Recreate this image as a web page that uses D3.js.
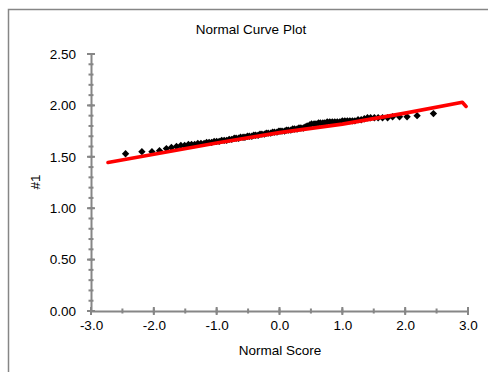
<!DOCTYPE html>
<html>
<head>
<meta charset="utf-8">
<script src="https://cdn.jsdelivr.net/npm/d3@7"></script>
<style>
  body { margin: 0; background: #fff; }
  text { font-family: "Liberation Sans", Arial, sans-serif; fill: #000; }
</style>
</head>
<body>
<div id="chart"></div>
<script>
// normal scores and observed values (#1)
const normalScores = [
  -2.45, -2.19, -2.03, -1.91, -1.80, -1.72, -1.64, -1.57, -1.51, -1.45,
  -1.40, -1.35, -1.30, -1.25, -1.20, -1.16, -1.12, -1.08, -1.04, -1.00,
  -0.96, -0.92, -0.88, -0.84, -0.80, -0.76, -0.72, -0.69, -0.65, -0.62,
  -0.58, -0.55, -0.51, -0.48, -0.44, -0.41, -0.38, -0.34, -0.31, -0.28,
  -0.24, -0.21, -0.18, -0.14, -0.11, -0.08, -0.04, -0.01,
  0.01, 0.04, 0.08, 0.11, 0.14, 0.18, 0.21, 0.24, 0.28, 0.31,
  0.34, 0.38, 0.41, 0.44, 0.48, 0.51, 0.55, 0.58, 0.62, 0.65,
  0.69, 0.72, 0.76, 0.80, 0.84, 0.88, 0.92, 0.96, 1.00, 1.04,
  1.08, 1.12, 1.16, 1.20, 1.25, 1.30, 1.35, 1.40, 1.45, 1.51,
  1.57, 1.64, 1.72, 1.80, 1.91, 2.03, 2.19, 2.45
];
const values = [
  1.53, 1.55, 1.55, 1.56, 1.58, 1.59, 1.60, 1.61, 1.61, 1.62,
  1.62, 1.62, 1.63, 1.63, 1.63, 1.64, 1.64, 1.64, 1.65, 1.65,
  1.65, 1.66, 1.66, 1.66, 1.67, 1.67, 1.68, 1.68, 1.68, 1.69,
  1.69, 1.69, 1.70, 1.70, 1.70, 1.71, 1.71, 1.71, 1.72, 1.72,
  1.72, 1.73, 1.73, 1.73, 1.74, 1.74, 1.74, 1.75,
  1.75, 1.75, 1.75, 1.76, 1.76, 1.76, 1.77, 1.77, 1.77, 1.78,
  1.78, 1.78, 1.79, 1.80, 1.81, 1.82, 1.82, 1.82, 1.83, 1.83,
  1.83, 1.83, 1.84, 1.84, 1.84, 1.84, 1.84, 1.84, 1.85, 1.85,
  1.85, 1.85, 1.85, 1.85, 1.86, 1.86, 1.87, 1.88, 1.88, 1.88,
  1.88, 1.88, 1.88, 1.89, 1.89, 1.89, 1.90, 1.92
];

// fitted normal line (red)
const curveScores = [-2.73, -1.0, 0.0, 1.0, 2.0, 2.91, 2.97];
const curveValues = [1.445, 1.635, 1.735, 1.818, 1.925, 2.03, 1.99];

const xTicks = [-3, -2, -1, 0, 1, 2, 3];
const yTicks = [0, 0.5, 1.0, 1.5, 2.0, 2.5];

const width = 488, height = 372;
const svg = d3.select('#chart').append('svg')
  .attr('width', width)
  .attr('height', height);

// outer chart frame (runs off the right and bottom edges)
svg.append('rect')
  .attr('x', 8.5).attr('y', 9.5)
  .attr('width', 520).attr('height', 420)
  .attr('fill', 'none')
  .attr('stroke', '#868686')
  .attr('stroke-width', 1.5);

const x = d3.scaleLinear().domain([-3, 3]).range([91, 468]);
const y = d3.scaleLinear().domain([0, 2.5]).range([311, 54]);

const axisColor = '#868686';
const hyphen = f => d => f(d).replace('\u2212', '-');

// minor ticks
const minorX = d3.range(-3, 3.01, 0.5);
const minorY = d3.range(0, 2.501, 0.1);

svg.append('g').selectAll('line')
  .data(minorX)
  .enter().append('line')
  .attr('x1', d => x(d)).attr('x2', d => x(d))
  .attr('y1', y(0) - 2.5).attr('y2', y(0) + 2.5)
  .attr('stroke', axisColor).attr('stroke-width', 2);

svg.append('g').selectAll('line')
  .data(minorY)
  .enter().append('line')
  .attr('y1', d => y(d)).attr('y2', d => y(d))
  .attr('x1', x(-3) - 2.5).attr('x2', x(-3) + 2.5)
  .attr('stroke', axisColor).attr('stroke-width', 2);

// axes
const xAxis = svg.append('g')
  .attr('transform', `translate(0,${y(0)})`)
  .call(d3.axisBottom(x).tickValues(xTicks).tickSize(0).tickPadding(9).tickFormat(hyphen(d3.format('.1f'))));
const yAxis = svg.append('g')
  .attr('transform', `translate(${x(-3)},0)`)
  .call(d3.axisLeft(y).tickValues(yTicks).tickSize(0).tickPadding(15).tickFormat(d3.format('.2f')));

[xAxis, yAxis].forEach(g => {
  g.select('.domain').attr('stroke', axisColor).attr('stroke-width', 2);
  g.selectAll('text')
    .style('font-size', '13.5px')
    .style('font-family', '"Liberation Sans", Arial, sans-serif')
    .attr('fill', '#000');
});

// major ticks crossing the axis
svg.append('g').selectAll('line')
  .data(xTicks)
  .enter().append('line')
  .attr('x1', d => x(d)).attr('x2', d => x(d))
  .attr('y1', y(0) - 4).attr('y2', y(0) + 4)
  .attr('stroke', axisColor).attr('stroke-width', 2);

svg.append('g').selectAll('line')
  .data(yTicks)
  .enter().append('line')
  .attr('y1', d => y(d)).attr('y2', d => y(d))
  .attr('x1', x(-3) - 4).attr('x2', x(-3) + 4)
  .attr('stroke', axisColor).attr('stroke-width', 2);

// data points
const points = normalScores.map((z, i) => ({ z, v: values[i] }));
const diamond = d3.symbol().type(d3.symbolSquare).size(27);

svg.append('g').selectAll('path')
  .data(points)
  .enter().append('path')
  .attr('d', diamond)
  .attr('transform', d => `translate(${x(d.z)},${y(d.v)}) rotate(45)`)
  .attr('fill', '#000');

// normal line
const curve = curveScores.map((z, i) => ({ z, v: curveValues[i] }));
svg.append('path')
  .datum(curve)
  .attr('d', d3.line().x(d => x(d.z)).y(d => y(d.v)))
  .attr('fill', 'none')
  .attr('stroke', '#ff0000')
  .attr('stroke-width', 3.6)
  .attr('stroke-linecap', 'round')
  .attr('stroke-linejoin', 'round');

// titles
svg.append('text')
  .attr('x', 251).attr('y', 34)
  .attr('text-anchor', 'middle')
  .style('font-size', '13.5px')
  .text('Normal Curve Plot');

svg.append('text')
  .attr('x', 280).attr('y', 355)
  .attr('text-anchor', 'middle')
  .style('font-size', '13.5px')
  .text('Normal Score');

svg.append('text')
  .attr('transform', 'translate(40,182) rotate(-90)')
  .attr('text-anchor', 'middle')
  .style('font-size', '13.5px')
  .text('#1');
</script>
</body>
</html>
